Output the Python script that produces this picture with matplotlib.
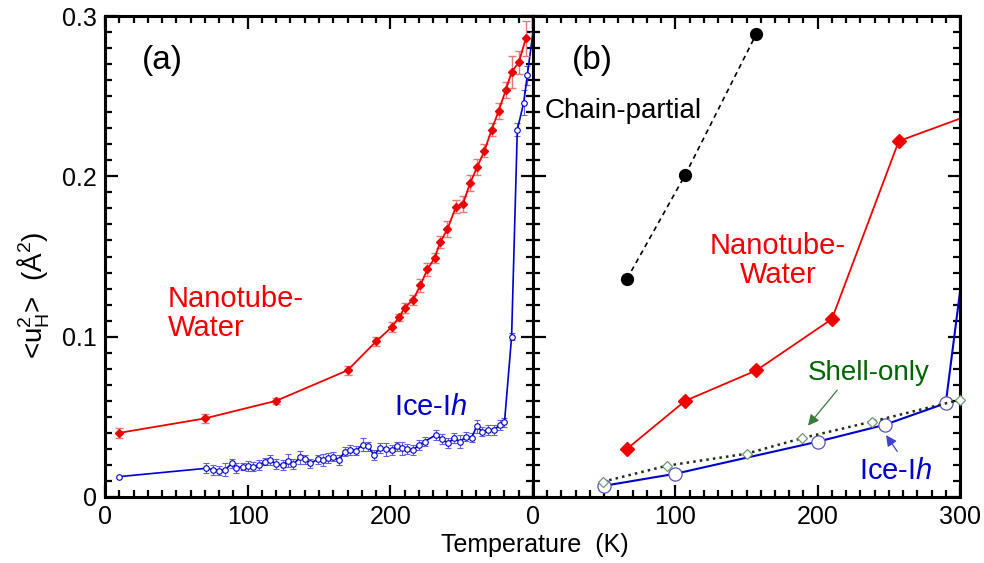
import matplotlib
matplotlib.use("Agg")
import matplotlib.pyplot as plt
from matplotlib.ticker import MultipleLocator

plt.rcParams['font.family'] = ['Liberation Sans', 'DejaVu Sans']
plt.rcParams['mathtext.fontset'] = 'custom'
plt.rcParams['mathtext.rm'] = 'Liberation Sans'
plt.rcParams['mathtext.it'] = 'Liberation Sans:italic'

# (a) nanotube water, with error bars
nt_a_T = [10, 70, 120, 170, 190, 201, 206, 210, 216, 221, 226, 231, 235, 240,
          246, 251, 256, 261, 266, 271, 276, 281, 285, 290, 295]
nt_a_u = [0.040, 0.049, 0.060, 0.079, 0.097, 0.106, 0.112, 0.118, 0.123, 0.132,
          0.142, 0.149, 0.159, 0.167, 0.181, 0.183, 0.196, 0.206, 0.216, 0.229,
          0.241, 0.254, 0.265, 0.271, 0.286]
nt_a_err = [0.003, 0.003, 0.002, 0.003, 0.003, 0.003, 0.002, 0.003, 0.003, 0.004,
            0.004, 0.003, 0.004, 0.005, 0.004, 0.005, 0.005, 0.005, 0.004, 0.004,
            0.005, 0.005, 0.010, 0.007, 0.011]

# (a) ice Ih
ice_a_T = [10, 71, 76, 80, 84, 89, 92, 96.5, 100, 104, 108, 112, 116, 120, 124.5,
           128.5, 132, 137, 140, 144, 149, 152.5, 156.5, 160, 164, 168, 172, 176,
           180.5, 184.5, 188.5, 193, 197, 201, 204.5, 208, 212, 216, 220, 224,
           232, 236.5, 240.5, 244.5, 249, 253, 257, 260.5, 264.5, 268.5, 272.5,
           277, 280, 285, 289, 293.5, 296, 300]
ice_a_u = [0.0127, 0.0179, 0.0169, 0.0165, 0.0169, 0.0210, 0.0179, 0.0190, 0.0194,
           0.0190, 0.0200, 0.0221, 0.0231, 0.0204, 0.0200, 0.0227, 0.0206, 0.0248,
           0.0235, 0.0210, 0.0235, 0.0231, 0.0242, 0.0252, 0.0231, 0.0283, 0.0294,
           0.0290, 0.0325, 0.0315, 0.0263, 0.0304, 0.0298, 0.0294, 0.0315, 0.0304,
           0.0298, 0.0294, 0.0325, 0.0346, 0.0388, 0.0360, 0.0335, 0.0367, 0.0346,
           0.0377, 0.0371, 0.0440, 0.0408, 0.0419, 0.0419, 0.0450, 0.0465, 0.100,
           0.229, 0.246, 0.263, 0.290]
ice_a_err = [0.000, 0.003, 0.003, 0.003, 0.004, 0.003, 0.003, 0.002, 0.003, 0.003,
             0.003, 0.002, 0.003, 0.003, 0.003, 0.004, 0.003, 0.004, 0.003, 0.003,
             0.003, 0.004, 0.003, 0.003, 0.003, 0.003, 0.003, 0.003, 0.004, 0.003,
             0.003, 0.003, 0.004, 0.003, 0.003, 0.004, 0.003, 0.003, 0.003, 0.003,
             0.003, 0.003, 0.003, 0.003, 0.004, 0.003, 0.003, 0.004, 0.003, 0.003,
             0.003, 0.003, 0.003, 0.002, 0.004, 0.008, 0.006, 0.000]

# (b) partial models
chain_T = [66, 107, 157]
chain_u = [0.136, 0.201, 0.289]
nt_b_T = [66, 107, 157, 210, 257, 300]
nt_b_u = [0.030, 0.060, 0.079, 0.111, 0.222, 0.236]
ice_b_T = [50, 100, 200, 247, 290, 300]
ice_b_u = [0.007, 0.0145, 0.0345, 0.045, 0.0585, 0.128]
shell_T = [49, 94, 150, 189, 238, 300]
shell_u = [0.0095, 0.0195, 0.027, 0.0367, 0.047, 0.0606]

RED = '#ee0000'
BLUE = '#0000cc'
GREEN = '#006400'

fig = plt.figure(figsize=(9.84, 5.63), dpi=100)
W, H = 984, 563
x0, xm, x1, yt, yb = 105, 533, 960, 16, 497
ax1 = fig.add_axes([x0 / W, 1 - yb / H, (xm - x0) / W, (yb - yt) / H])
ax2 = fig.add_axes([xm / W, 1 - yb / H, (x1 - xm) / W, (yb - yt) / H])

for ax in (ax1, ax2):
    ax.set_xlim(0, 300)
    ax.set_ylim(0, 0.3)
    ax.xaxis.set_major_locator(MultipleLocator(100))
    ax.xaxis.set_minor_locator(MultipleLocator(10))
    ax.yaxis.set_major_locator(MultipleLocator(0.1))
    ax.yaxis.set_minor_locator(MultipleLocator(0.01))
    ax.tick_params(which='both', direction='in', top=True, right=True,
                   width=1.6, labelsize=18, pad=6)
    ax.tick_params(which='major', length=9)
    ax.tick_params(which='minor', length=5)
    for s in ax.spines.values():
        s.set_linewidth(2.2)

ax1.set_xticks([0, 100, 200, 300], ['0', '100', '200', ''])
ax1.set_yticks([0, 0.1, 0.2, 0.3], ['0', '0.1', '0.2', '0.3'])
ax2.set_yticklabels([])

# panel (a)
ax1.errorbar(nt_a_T, nt_a_u, yerr=nt_a_err, color=RED, lw=1.3, marker='D',
             ms=4.5, ecolor='#e87878', elinewidth=1, capsize=3, zorder=3)
ice_marks = list(range(len(ice_a_T) - 1))
ax1.errorbar(ice_a_T, ice_a_u, yerr=ice_a_err, color=BLUE, lw=1.2, marker='o',
             ms=4, mfc='white', mew=0.8, ecolor='#6060dd', elinewidth=0.8,
             capsize=2.5, markevery=ice_marks, zorder=2)

ax1.text(44, 0.1145, 'Nanotube-\nWater', color=RED, fontsize=21,
         linespacing=1.05, ha='left', va='center')
ax1.text(228, 0.056, 'Ice-I$h$', color=BLUE, fontsize=21,
         ha='center', va='center')
ax1.text(0.085, 0.908, '(a)', transform=ax1.transAxes, fontsize=24,
         va='center')

# panel (b)
ax2.plot(chain_T, chain_u, color='black', ls='--', lw=1.2, marker='o', ms=8.5,
         dashes=(3, 2.5))
ax2.plot(nt_b_T, nt_b_u, color=RED, lw=1.3, marker='D', ms=6.8,
         markevery=[0, 1, 2, 3, 4])
ax2.plot(shell_T, shell_u, color='#1a2e1a', ls=':', lw=1.8, marker='D', ms=4.8,
         mfc='white', mec='#6a9a6a', mew=0.9, clip_on=False, zorder=3)
ax2.plot(ice_b_T, ice_b_u, color=BLUE, lw=1.5, marker='o', ms=9.5, mfc='white',
         mec='#5555bb', mew=0.9, markevery=[0, 1, 2, 3, 4], zorder=2)

ax2.text(0.092, 0.908, '(b)', transform=ax2.transAxes, fontsize=24,
         va='center')
ax2.text(8, 0.2405, 'Chain-partial', color='black', fontsize=20, va='center')
ax2.text(172, 0.1475, 'Nanotube-\nWater', color=RED, fontsize=21,
         linespacing=1.05, ha='center', va='center')
ax2.text(236, 0.0775, 'Shell-only', color=GREEN, fontsize=20,
         ha='center', va='center')
ax2.text(255, 0.0165, 'Ice-I$h$', color=BLUE, fontsize=21,
         ha='center', va='center')
ax2.annotate('', xy=(192, 0.0432), xytext=(215, 0.068),
             arrowprops=dict(arrowstyle='-|>', color='#3a7a3a', lw=0.9,
                             mutation_scale=16))
ax2.annotate('', xy=(247, 0.040), xytext=(257, 0.027),
             arrowprops=dict(arrowstyle='-|>', color='#4040cc', lw=0.9,
                             mutation_scale=16))

fig.text(0.034, 1 - 295 / H, '<$\\mathregular{u_H^2}$>  (Å$^\\mathregular{2}$)',
         rotation=90, ha='center', va='center', fontsize=20)
fig.text(535 / W, 1 - 545 / H, 'Temperature  (K)', ha='center', va='center',
         fontsize=18)

fig.savefig('out.png', dpi=100)
